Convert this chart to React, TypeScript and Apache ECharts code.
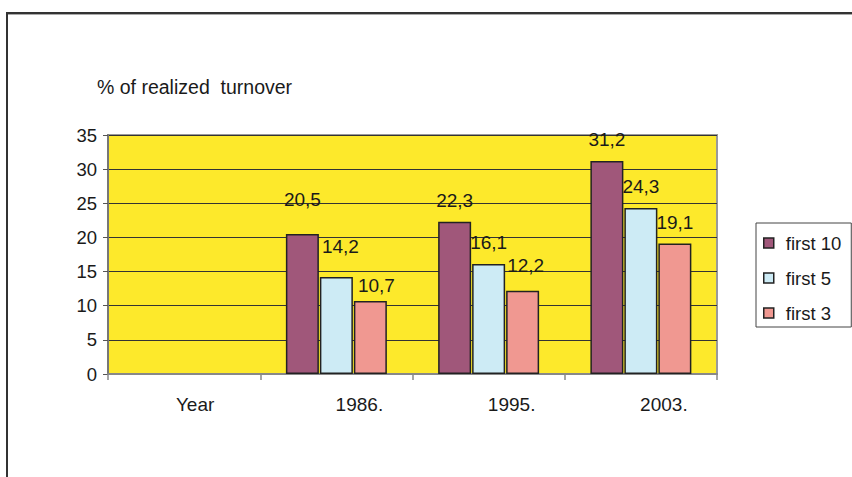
import React, { useEffect, useRef } from "react";
import * as echarts from "echarts";

const categories = ["Year", "1986.", "1995.", "2003."];
const seriesNames = ["first 10", "first 5", "first 3"];
const first10 = [null, 20.5, 22.3, 31.2];
const first5 = [null, 14.2, 16.1, 24.3];
const first3 = [null, 10.7, 12.2, 19.1];
const yTicks = [0, 5, 10, 15, 20, 25, 30, 35];
const titleText = "% of realized  turnover";

// label nudges (layout only) per series / category
const nudge10 = [[0, 0], [0, -13], [0, 0], [0, 0]];
const nudge5 = [[0, 0], [4, -9], [0, 0], [0, 0]];
const nudge3 = [[0, 0], [6, 6], [3, -4], [0, 0]];

const colors = ["#A0577A", "#CDEBF5", "#F09891"];
const FONT = "'Liberation Sans', Arial, sans-serif";

export default function App() {
  const ref = useRef<HTMLDivElement>(null);
  useEffect(() => {
    if (!ref.current) return;
    const chart = echarts.init(ref.current, null, { renderer: "svg" });
    const mk = (vals: (number | null)[], nudges: number[][]) =>
      vals.map((v, i) =>
        v == null ? null : { value: v, label: { offset: nudges[i] } }
      );
    const seriesData = [mk(first10, nudge10), mk(first5, nudge5), mk(first3, nudge3)];
    chart.setOption({
      animation: false,
      backgroundColor: "#ffffff",
      textStyle: { fontFamily: FONT },
      title: {
        text: titleText,
        left: 92,
        top: 72,
        textStyle: { fontFamily: FONT, fontSize: 19.5, fontWeight: "normal", color: "#1a1a1a" },
      },
      legend: {
        orient: "vertical",
        left: 756,
        top: 223,
        padding: [10, 10, 4, 7],
        itemGap: 15,
        itemWidth: 10,
        itemHeight: 10,
        icon: "rect",
        borderColor: "#444",
        borderWidth: 1,
        data: seriesNames,
        itemStyle: { borderColor: "#222", borderWidth: 1.5 },
        textStyle: {
          fontFamily: FONT,
          fontSize: 18.5,
          color: "#1a1a1a",
          lineHeight: 20,
          padding: [0, 0, 0, 7],
        },
      },
      grid: {
        left: 108,
        right: 135,
        top: 135,
        bottom: 103,
        show: true,
        backgroundColor: "#FDE92B",
        borderColor: "#999",
        borderWidth: 2,
      },
      xAxis: {
        type: "category",
        data: categories.map((c, i) =>
          i === 0
            ? { value: c, textStyle: { padding: [0, 0, 0, 22] } }
            : { value: c }
        ),
        boundaryGap: true,
        axisLine: { lineStyle: { color: "#888", width: 2 } },
        axisTick: { show: true, length: 6, lineStyle: { color: "#888", width: 1.5 } },
        axisLabel: {
          fontFamily: FONT,
          fontSize: 19,
          color: "#1a1a1a",
          margin: 21,
          align: "center",
          padding: [0, 0, 0, 46],
        },
      },
      yAxis: {
        type: "value",
        min: 0,
        max: yTicks[yTicks.length - 1],
        interval: yTicks[1] - yTicks[0],
        axisLine: { show: true, lineStyle: { color: "#777", width: 2 } },
        axisTick: { show: true, length: 5, lineStyle: { color: "#555" } },
        axisLabel: { fontFamily: FONT, fontSize: 18.5, color: "#1a1a1a", margin: 11 },
        splitLine: { show: true, lineStyle: { color: "#333", width: 1 } },
      },
      series: seriesNames.map((name, si) => ({
        name,
        type: "bar",
        data: seriesData[si],
        barWidth: 33,
        barGap: "3%",
        itemStyle: { color: colors[si], borderColor: "#222", borderWidth: 1.5 },
        label: {
          show: true,
          position: "top",
          distance: 12,
          fontFamily: FONT,
          fontSize: 19,
          color: "#1a1a1a",
          formatter: (p: any) => String(p.value).replace(".", ","),
        },
      })),
      graphic: [
        { type: "line", shape: { x1: 6, y1: 13, x2: 852, y2: 13 }, style: { stroke: "#333", lineWidth: 2 } },
        { type: "line", shape: { x1: 8, y1: 14.5, x2: 852, y2: 14.5 }, style: { stroke: "#aaa", lineWidth: 1 } },
        { type: "line", shape: { x1: 7, y1: 12, x2: 7, y2: 477 }, style: { stroke: "#333", lineWidth: 2 } },
      ],
    });
    return () => chart.dispose();
  }, []);
  return (
    <div
      ref={ref}
      style={{ position: "fixed", left: 0, top: 0, width: 852, height: 477 }}
    />
  );
}
